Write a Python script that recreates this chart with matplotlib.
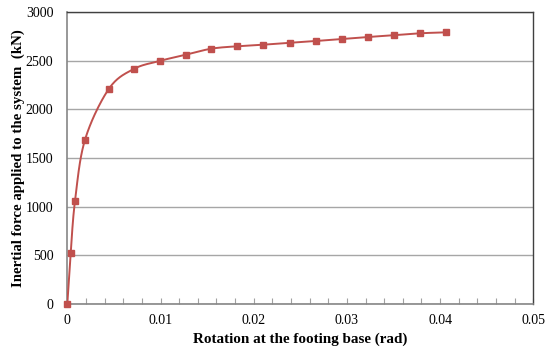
import numpy as np
import matplotlib
matplotlib.use("Agg")
import matplotlib.pyplot as plt
from matplotlib.ticker import MultipleLocator

rotation = [0.0, 0.000365, 0.00083, 0.0019, 0.00447, 0.00712, 0.00991, 0.0127,
            0.01545, 0.01824, 0.02103, 0.02386, 0.02665, 0.02944, 0.03223,
            0.03502, 0.03781, 0.0406]
force = [0, 527, 1061, 1688, 2212, 2414, 2497, 2561, 2623, 2648, 2664, 2685,
         2702, 2723, 2743, 2761, 2781, 2791]

x_ticks = [0, 0.01, 0.02, 0.03, 0.04, 0.05]
x_ticklabels = ["0", "0.01", "0.02", "0.03", "0.04", "0.05"]
y_ticks = [0, 500, 1000, 1500, 2000, 2500, 3000]

plt.rcParams['font.family'] = ['Liberation Serif', 'DejaVu Serif']

def smooth(xs, ys, n=30):
    # Catmull-Rom style smoothing of the drawn line (like Excel smoothed lines)
    xs = np.asarray(xs, float); ys = np.asarray(ys, float)
    sx = 1 / 0.05; sy = 1 / 3000 * (292 / 466)
    P = np.column_stack([xs * sx, ys * sy])
    out = []
    for i in range(len(P) - 1):
        p0 = P[i - 1] if i > 0 else P[i]
        p1 = P[i]; p2 = P[i + 1]
        p3 = P[i + 2] if i + 2 < len(P) else P[i + 1]
        c1 = p1 + (p2 - p0) / 6
        c2 = p2 - (p3 - p1) / 6
        t = np.linspace(0, 1, n)[:, None]
        seg = (1 - t) ** 3 * p1 + 3 * (1 - t) ** 2 * t * c1 + 3 * (1 - t) * t ** 2 * c2 + t ** 3 * p2
        out.append(seg if i == 0 else seg[1:])
    S = np.vstack(out)
    return S[:, 0] / sx, S[:, 1] / sy

fig = plt.figure(figsize=(5.54, 3.58), dpi=100)
ax = fig.add_axes([67.3 / 554, (358 - 304) / 358, 466 / 554, 292 / 358])

color = '#C0504D'
sx_, sy_ = smooth(rotation, force)
ax.plot(sx_, sy_, color=color, lw=1.4, zorder=3)
ax.plot(rotation, force, ls='none', marker='s', ms=5, color=color, zorder=4, clip_on=False)

ax.set_xlim(0, 0.05)
ax.set_ylim(0, 3000)
ax.set_xticks(x_ticks)
ax.set_xticklabels(x_ticklabels)
ax.set_yticks(y_ticks)
ax.xaxis.set_minor_locator(MultipleLocator(0.002))
ax.yaxis.grid(True, color='#A6A6A6', lw=1.0)
ax.set_axisbelow(True)

ax.tick_params(axis='x', which='both', direction='in', length=4, width=0.8, color='#A0A0A0',
               labelsize=10, pad=7)
ax.tick_params(axis='y', which='both', length=0, labelsize=10, pad=10)

for side in ['left', 'bottom']:
    ax.spines[side].set_color('#868686')
    ax.spines[side].set_linewidth(1.2)
for side in ['top', 'right']:
    ax.spines[side].set_color('#404040')
    ax.spines[side].set_linewidth(1.0)

ax.set_xlabel('Rotation at the footing base (rad)', fontsize=10.9, fontweight='bold')
ax.set_ylabel('Inertial force applied to the system  (kN)', fontsize=10.7, fontweight='bold')
ax.xaxis.set_label_coords(0.5, -(339 - 304) / 292, transform=ax.transAxes)
ax.yaxis.set_label_coords(-(67.3 - 18) / 466, 0.5, transform=ax.transAxes)
ax.xaxis.label.set_va('center')
ax.yaxis.label.set_va('center')

fig.savefig('out.png', dpi=100)
